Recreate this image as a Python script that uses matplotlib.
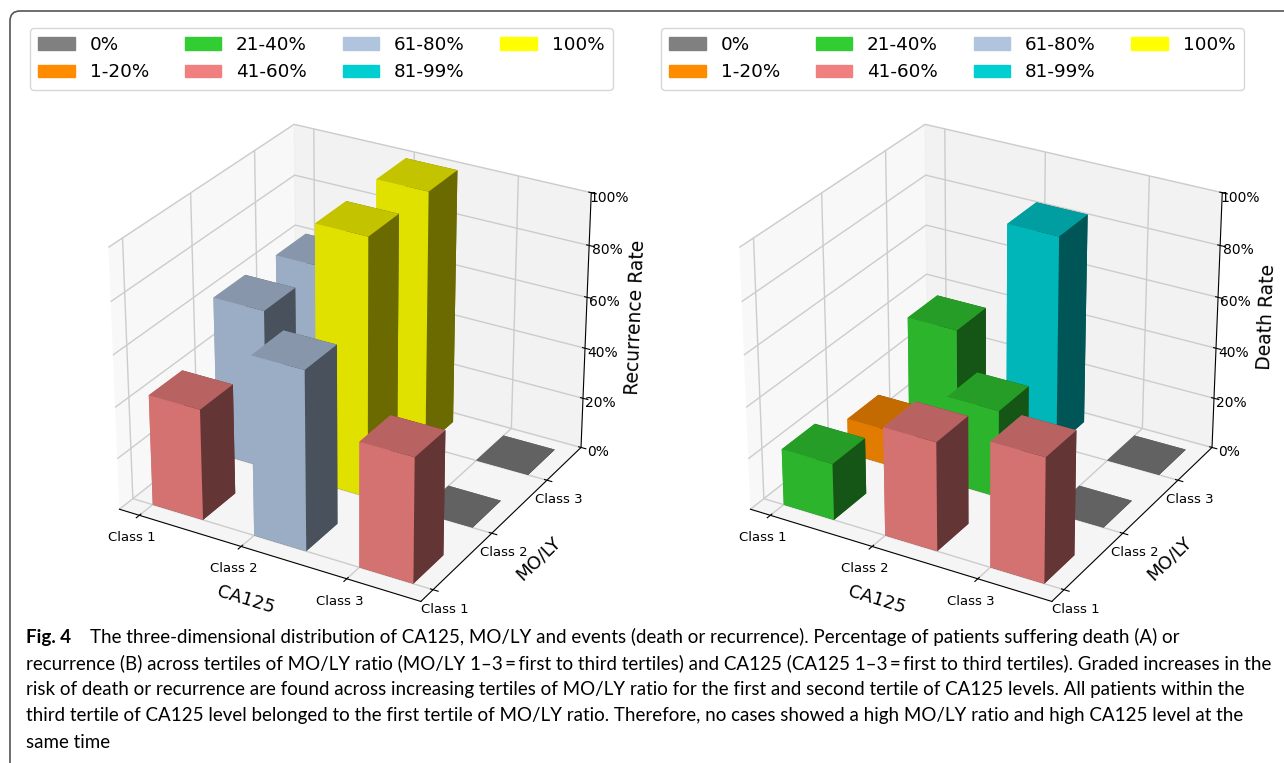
import matplotlib
matplotlib.use("Agg")
import matplotlib.pyplot as plt
from matplotlib.patches import Patch, FancyBboxPatch

W, H = 1284, 763

plt.rcParams["grid.color"] = "#cccccc"
plt.rcParams["grid.linewidth"] = 1.0

classes = ["Class 1", "Class 2", "Class 3"]
ca125_pos = [1, 1, 1, 2, 2, 2, 3, 3, 3]
moly_pos = [1, 2, 3, 1, 2, 3, 1, 2, 3]

# rates
recurrence = [43, 62, 61, 69, 100, 100, 48, 0, 0]
death = [22, 14, 36, 42, 34, 83, 48, 0, 0]

band_labels = ["0%", "1-20%", "21-40%", "41-60%", "61-80%", "81-99%", "100%"]
band_colors = ["gray", "darkorange", "limegreen", "lightcoral",
               "lightsteelblue", "darkturquoise", "yellow"]

caption_bold = "Fig. 4"
caption = [
    "The three-dimensional distribution of CA125, MO/LY and events (death or recurrence). Percentage of patients suffering death (A) or",
    "recurrence (B) across tertiles of MO/LY ratio (MO/LY 1\u20133\u2009=\u2009first to third tertiles) and CA125 (CA125 1\u20133\u2009=\u2009first to third tertiles). Graded increases in the",
    "risk of death or recurrence are found across increasing tertiles of MO/LY ratio for the first and second tertile of CA125 levels. All patients within the",
    "third tertile of CA125 level belonged to the first tertile of MO/LY ratio. Therefore, no cases showed a high MO/LY ratio and high CA125 level at the",
    "same time",
]


def band_color(v):
    if v == 0:
        return band_colors[0]
    if v <= 20:
        return band_colors[1]
    if v <= 40:
        return band_colors[2]
    if v <= 60:
        return band_colors[3]
    if v <= 80:
        return band_colors[4]
    if v < 100:
        return band_colors[5]
    return band_colors[6]


def px_rect(cx, cy, size):
    return [(cx - size / 2) / W, 1 - (cy + size / 2) / H, size / W, size / H]


def draw_panel(cx, cy, values, zlabel):
    ax = fig.add_axes(px_rect(cx, cy, 552), projection="3d")
    ax.patch.set_alpha(0)
    ax.view_init(elev=27.5, azim=-60)
    ax.set_box_aspect((4, 4, 3.37))
    colors = [band_color(v) for v in values]
    # a zero bar still needs a little height, otherwise its side faces shade badly
    heights = [max(v, 0.1) for v in values]
    ax.bar3d(ca125_pos, moly_pos, [0] * 9, 0.5, 0.5, heights, color=colors)
    ax.set_xlim(0.80, 3.68)
    ax.set_ylim(0.80, 3.65)
    ax.set_zlim(0, 100)
    ax.set_xticks([1, 2, 3])
    ax.set_yticks([1, 2, 3])
    ax.set_zticks([0, 20, 40, 60, 80, 100])
    ax.set_xticklabels(classes, fontsize=9.5)
    ax.set_yticklabels(classes, fontsize=9.5)
    ax.set_zticklabels(["0%", "20%", "40%", "60%", "80%", "100%"], fontsize=10)
    ax.tick_params(axis="x", pad=0)
    ax.tick_params(axis="y", pad=0)
    ax.tick_params(axis="z", pad=0)
    for axis in (ax.xaxis, ax.yaxis, ax.zaxis):
        axis.pane.set_edgecolor("#eeeeee")
    ax.set_xlabel("CA125", fontsize=13, labelpad=2)
    ax.set_ylabel("MO/LY", fontsize=13, labelpad=2)
    ax.set_zlabel(zlabel, fontsize=13.5, labelpad=1.5)
    return ax


def draw_legend(left, top):
    handles = [Patch(color=c, label=l) for c, l in zip(band_colors, band_labels)]
    fig.legend(handles=handles, ncol=4, fontsize=13.2, loc="upper left",
               bbox_to_anchor=(left / W, 1 - top / H), borderaxespad=0, borderpad=0.45,
               columnspacing=1.95)


fig = plt.figure(figsize=(W / 100, H / 100), dpi=100)

back = fig.add_axes([0, 0, 1, 1], zorder=-1)
back.set_xlim(0, W)
back.set_ylim(H, 0)
back.axis("off")
back.add_patch(FancyBboxPatch((10, 11), W + 40, H + 2, boxstyle="round,pad=0,rounding_size=10",
                              fc="white", ec="#555555", lw=1.2))

draw_panel(347, 359, recurrence, "Recurrence Rate")
draw_panel(978, 359, death, "Death Rate")
draw_legend(30, 28)
draw_legend(661, 28)

front = fig.add_axes([0, 0, 1, 1], zorder=5)
front.set_xlim(0, W)
front.set_ylim(H, 0)
front.axis("off")
front.patch.set_alpha(0)
text_font = ["Lato", "DejaVu Sans"]
text_size = 13.5
line_y = [637, 663, 690, 716, 743]
front.text(26, line_y[0], caption_bold, fontsize=text_size, fontweight="bold", family=text_font, va="center")
front.text(90, line_y[0], caption[0], fontsize=text_size, family=text_font, va="center")
for y, line in zip(line_y[1:], caption[1:]):
    front.text(26, y, line, fontsize=text_size, family=text_font, va="center")

fig.savefig("out.png", dpi=100)
